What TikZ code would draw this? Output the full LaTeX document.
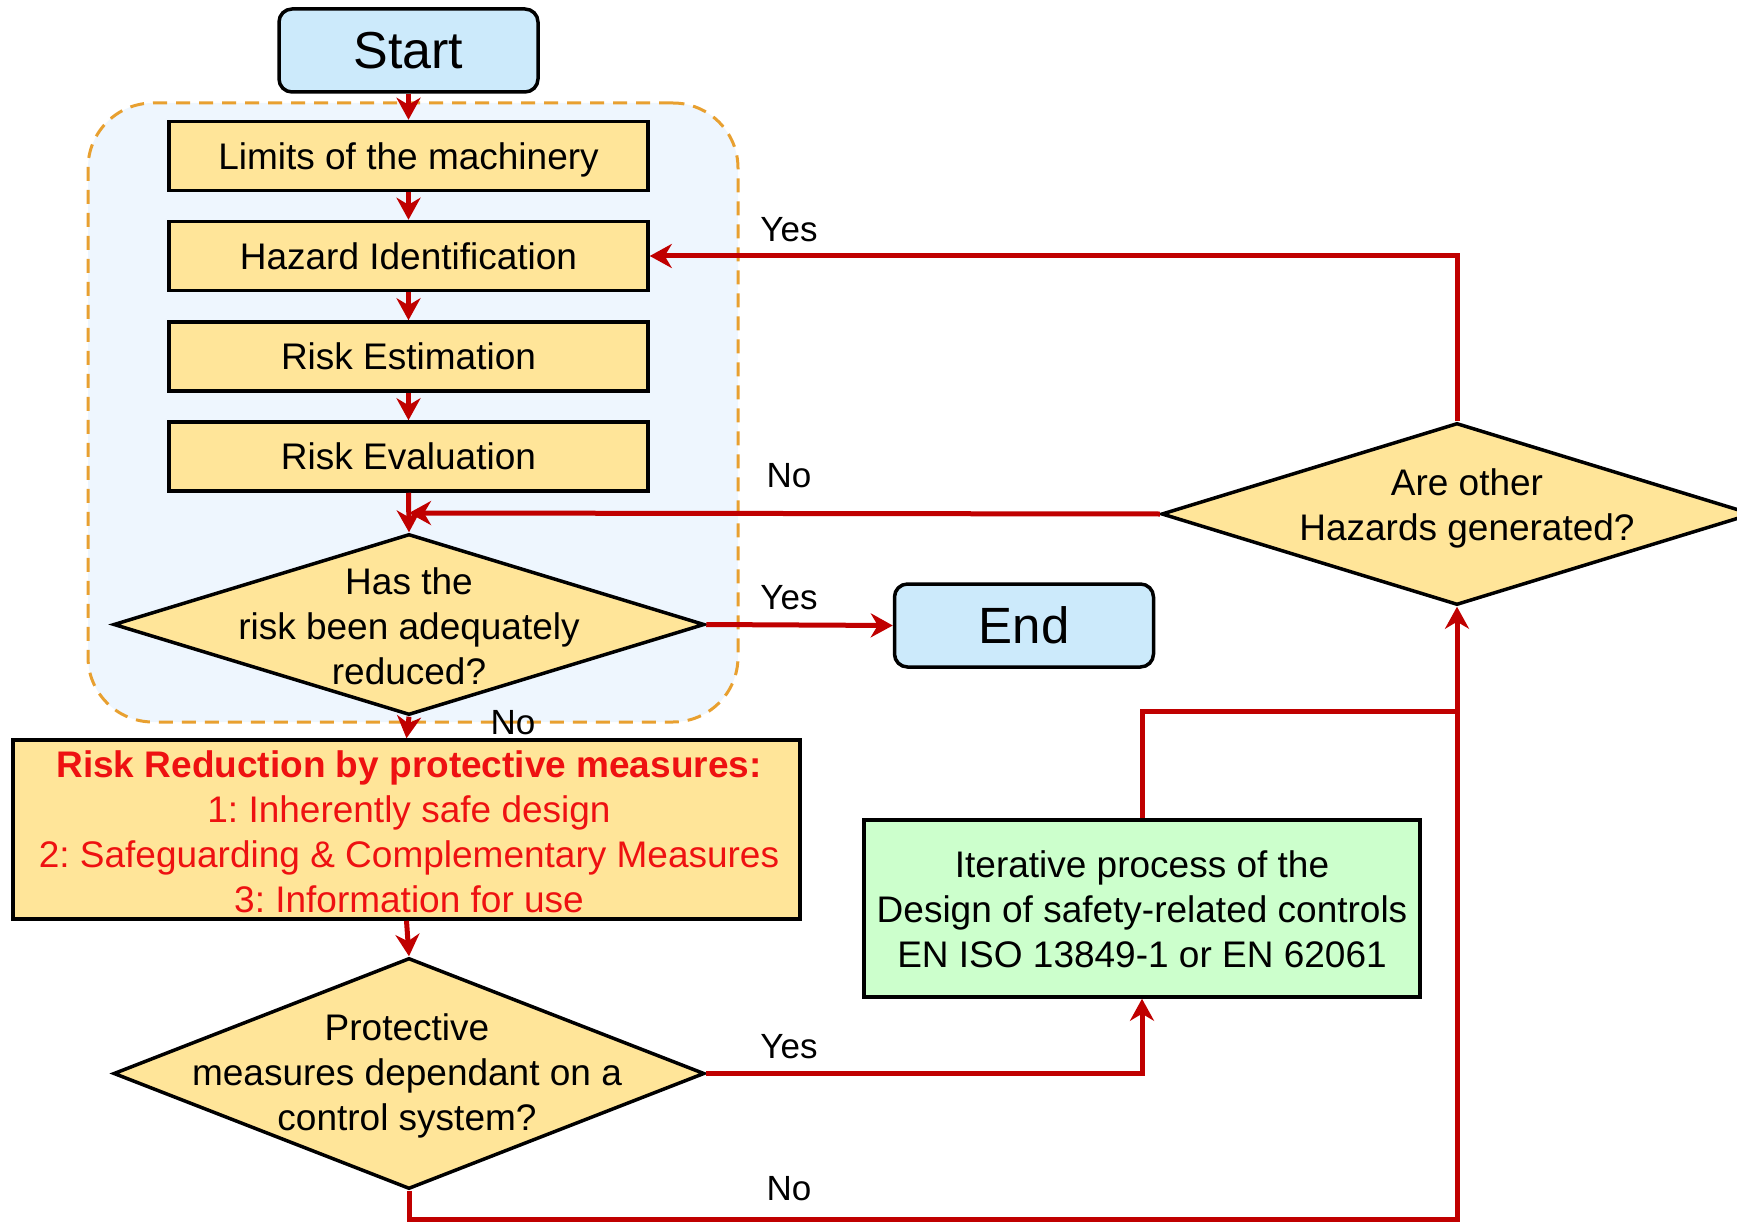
\documentclass[tikz,border=0pt]{standalone}
\usepackage{fontspec}
\setmainfont{Liberation Sans}
\usetikzlibrary{shapes.geometric,arrows.meta}
\definecolor{boxy}{HTML}{FFE599}
\definecolor{termblue}{HTML}{CCEAFB}
\definecolor{grpfill}{HTML}{EEF6FE}
\definecolor{grpline}{HTML}{E8A030}
\definecolor{greenbox}{HTML}{CCFFCC}
\definecolor{linered}{HTML}{C00000}
\definecolor{textred}{HTML}{EE1111}
\frenchspacing
\begin{document}
\begin{tikzpicture}[x=1pt,y=-1pt,
  stepbox/.style={draw=black, line width=3.5pt, fill=boxy, minimum width=479pt, minimum height=69pt, inner sep=0pt, text height=26.6pt, text depth=0pt, font=\fontsize{37}{45}\selectfont},
  term/.style={draw=black, line width=3.5pt, fill=termblue, rounded corners=13pt, minimum width=259pt, minimum height=83pt, inner sep=0pt, font=\fontsize{52}{60}\selectfont},
  dia/.style={shape=diamond, draw=black, line width=3.5pt, fill=boxy, inner sep=0pt},
  txt/.style={align=center, inner sep=0pt, font=\fontsize{37}{45}\selectfont\frenchspacing},
  lbl/.style={inner sep=0pt, font=\fontsize{35}{40}\selectfont},
  conn/.style={draw=linered, line width=5pt, -{Stealth[length=22pt,width=24pt,inset=7pt]}},
  plain/.style={draw=linered, line width=5pt},
]
\useasboundingbox (0,0) rectangle (1737,1222);
% group container
\node[draw=grpline, fill=grpfill, line width=3pt, dash pattern=on 14pt off 9pt, rounded corners=65pt, minimum width=650pt, minimum height=619pt, inner sep=0pt] (grp) at (413,412.5) {};

% nodes
\node[term] (start) at (408.5,50.5) {Start};
\node[stepbox] (lim) at (408.5,156) {Limits of the machinery};
\node[stepbox] (haz) at (408.5,256) {Hazard Identification};
\node[stepbox] (est) at (408.5,356.5) {Risk Estimation};
\node[stepbox] (eval) at (408.5,456.5) {Risk Evaluation};
\node[dia, minimum width=591pt, minimum height=181pt] (d1) at (409,624.5) {};
\node[txt] (d1t) at (409,626) {Has the\\risk been adequately\\reduced?};
\node[term, font=\fontsize{51}{60}\selectfont] (end) at (1024,625.5) {End};
\node[dia, minimum width=591pt, minimum height=182pt] (d2) at (1457,514) {};
\node[txt] (d2t) at (1467,508) {Are other\\Hazards generated?};
\node[draw=black, line width=3.5pt, fill=boxy, minimum width=787pt, minimum height=179pt, inner sep=0pt] (rr) at (406.5,829.5) {};
\node[txt, text=textred] (rrt) at (409,832) {\textbf{Risk Reduction by protective measures:}\\1: Inherently safe design\\2: Safeguarding \& Complementary Measures\\3: Information for use};
\node[dia, minimum width=591pt, minimum height=231pt] (d3) at (409,1073.5) {};
\node[txt] (d3t) at (407,1075.5) {Protective\\measures dependant on a\\control system?};
\node[draw=black, line width=3.5pt, fill=greenbox, minimum width=556pt, minimum height=177pt, inner sep=0pt] (it) at (1142,908.5) {};
\node[txt] (itt) at (1142,909) {Iterative process of the\\Design of safety-related controls\\EN ISO 13849-1 or EN 62061};

% coordinates
\coordinate (nojoin) at (409,513);
\coordinate (j) at (1457,711);
\coordinate (bot) at (409,1219);

% connectors
\draw[conn] (start.south) -- (lim.north);
\draw[conn] (lim.south) -- (haz.north);
\draw[conn] (haz.south) -- (est.north);
\draw[conn] (est.south) -- (eval.north);
\draw[conn] (eval.south) -- (d1.north);
\draw[conn] (d2.west) -- (nojoin);
\draw[conn] (d1.east) -- (end.west);
\draw[conn] (d1.south) -- (rr.north);
\draw[conn] (rr.south) -- (d3.north);
\draw[conn] (d3.east) -| (it.south);
\draw[conn] (it.north) |- (j) -- (d2.south);
\draw[plain] (d3.south) -- (bot) -| (j);
\draw[conn] (d2.north) |- (haz.east);

% labels
\node[lbl] (l1) at (789,230) {Yes};
\node[lbl] (l2) at (789,476) {No};
\node[lbl] (l3) at (789,598) {Yes};
\node[lbl] (l4) at (513,723) {No};
\node[lbl] (l5) at (789,1047) {Yes};
\node[lbl] (l6) at (789,1189) {No};
\end{tikzpicture}
\end{document}
